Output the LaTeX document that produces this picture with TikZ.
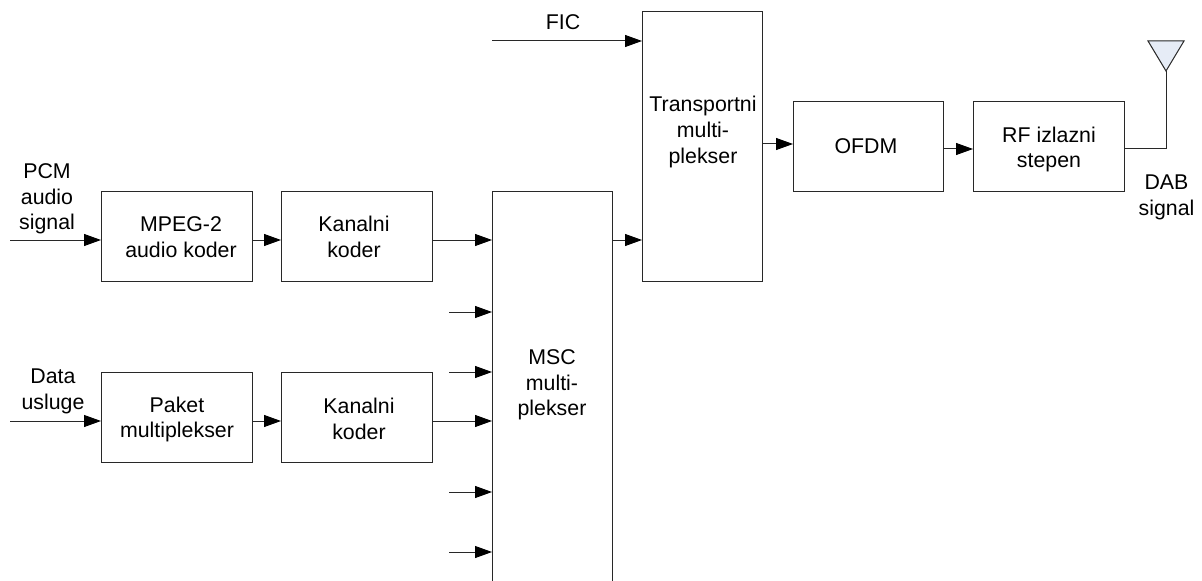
\documentclass[tikz,border=0pt]{standalone}
\usepackage{fontspec}
\setmainfont{Liberation Sans}
\usetikzlibrary{arrows.meta}
\definecolor{antfill}{RGB}{230,236,246}
\definecolor{linec}{RGB}{40,40,40}
\tikzset{
 px/.style={x=0.75pt,y=-0.75pt},
 block/.style={draw=linec,line width=0.75pt,inner sep=0pt},
 lab/.style={inner sep=0pt,align=center,font=\fontsize{16pt}{19.2pt}\selectfont},
 conn/.style={draw=linec,line width=0.75pt,-{Triangle[length=12.75pt,width=9pt,color=black]}},
 wire/.style={draw=linec,line width=0.75pt},
}
\newcommand{\blk}[5]{\node[block,anchor=north west,minimum width=#4*0.75pt,minimum height=#5*0.75pt] (#1) at (#2,#3) {};}
\begin{document}
\begin{tikzpicture}[px]
\useasboundingbox (0,0) rectangle (1202,581);
\blk{mpeg}{101}{191}{151}{90}
\blk{kk1}{281}{191}{151}{90}
\blk{pak}{101}{372}{151}{90}
\blk{kk2}{281}{372}{151}{90}
\blk{msc}{492}{191}{120}{400}
\blk{tm}{642}{11}{120}{270}
\blk{ofdm}{793}{101}{150}{90}
\blk{rf}{973}{101}{151}{90}
\node[lab] (t1) at (181,237) {MPEG-2\\audio koder};
\node[lab] (t2) at (354,237) {Kanalni\\koder};
\node[lab] (t3) at (177,419.5) {Paket\\multiplekser};
\node[lab] (t4) at (359,419) {Kanalni\\koder};
\node[lab] (t5) at (552,385) {MSC\\multi-\\plekser};
\node[lab] (t6) at (703,132) {Transportni\\multi-\\plekser};
\node[lab] (t7) at (866,146.5) {OFDM};
\node[lab] (t8) at (1049,149.5) {RF izlazni\\stepen};
\node[lab] (pcm) at (47,199) {PCM\\audio\\signal};
\node[lab] (data) at (53,391.5) {Data\\usluge};
\node[lab] (fic) at (563,22.5) {FIC};
\node[lab] (dab) at (1166.5,197.5) {DAB\\signal};
\coordinate (a1) at (10,240);
\coordinate (a2) at (10,421);
\coordinate (a3) at (492,41);
\draw[conn] (a1) -- (mpeg.west|-a1);
\draw[conn] (a2) -- (pak.west|-a2);
\draw[conn] (a3) -- (tm.west|-a3);
\draw[conn] (mpeg.east|-a1) -- (kk1.west|-a1);
\draw[conn] (pak.east|-a2) -- (kk2.west|-a2);
\draw[conn] (kk1.east|-a1) -- (msc.west|-a1);
\draw[conn] (kk2.east|-a2) -- (msc.west|-a2);
\draw[conn] (msc.east|-a1) -- (tm.west|-a1);
\coordinate (b1) at (0,144);
\coordinate (b2) at (0,149);
\draw[conn] (tm.east|-b1) -- (ofdm.west|-b1);
\draw[conn] (ofdm.east|-b2) -- (rf.west|-b2);
\foreach \y/\n in {312/c1,372/c2,492/c3,552/c4}{
  \coordinate (\n) at (449,\y);
  \draw[conn] (\n) -- (msc.west|-\n);
}
\coordinate (apex) at (1166,71);
\coordinate (al) at (1148,41);
\coordinate (ar) at (1184,41);
\draw[wire] (rf.east|-b2) -- (apex|-b2) -- (apex);
\draw[wire,fill=antfill] (al) -- (ar) -- (apex) -- cycle;
\end{tikzpicture}
\end{document}
